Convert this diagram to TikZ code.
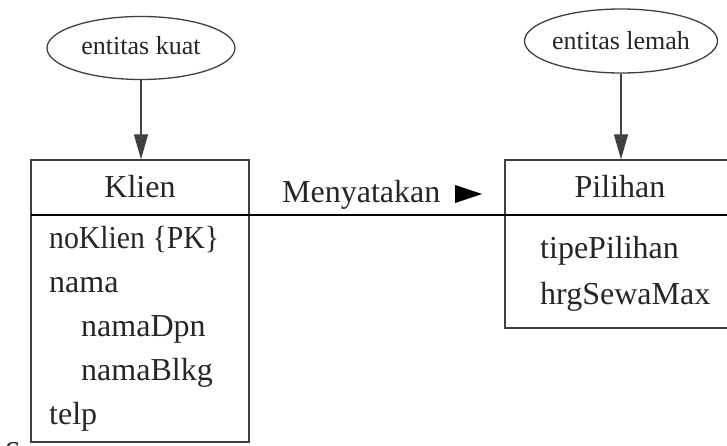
\documentclass[tikz,border=0pt]{standalone}
\usepackage{fontspec}
\usepackage{graphicx}
\setmainfont{Liberation Serif}
\usetikzlibrary{arrows.meta,shapes.geometric}
\begin{document}
\begin{tikzpicture}[x=1pt,y=-1pt,
  boxline/.style={draw=black!75,line width=1.3pt},
  ent/.style={boxline,ellipse,inner sep=0pt},
  big/.style={font=\fontsize{32}{38}\selectfont,inner sep=0pt,text=black!85},
  small/.style={font=\fontsize{26}{30}\selectfont,inner sep=0pt,text=black!85},
  arr/.style={draw=black!75,line width=1.3pt,-{Triangle[length=25pt,width=14pt]}}]
\useasboundingbox (0,0) rectangle (727,446);
\clip (0,0) rectangle (727,446);
% ellipses
\node[ent,minimum width=188pt,minimum height=63pt] (kuat) at (141,48) {};
\node[small,anchor=base] at (141,55) {entitas kuat};
\node[ent,minimum width=193pt,minimum height=64pt] (lemah) at (621,41) {};
\node[small,anchor=base] at (621,50) {entitas lemah};
% boxes
\node[boxline,minimum width=218pt,minimum height=282pt,inner sep=0pt] (klien) at (140,301) {};
\node[boxline,minimum width=230pt,minimum height=168pt,inner sep=0pt] (pilihan) at (620,244) {};
\coordinate (divL) at (31,215);
\coordinate (divR) at (740,215);
\draw[black,line width=1.2pt] (divL) -- (divR);
% arrows
\draw[arr] (kuat.south) -- (kuat.south |- klien.north);
\draw[arr] (lemah.south) -- (lemah.south |- pilihan.north);
% Klien texts
\node[big,anchor=base] at (140,198) {Klien};
\node[big,anchor=base west] at (49,248) {\scalebox{0.93}[1]{noKlien \{PK\}}};
\node[big,anchor=base west] at (49,292) {nama};
\node[big,anchor=base west] at (81,336) {namaDpn};
\node[big,anchor=base west] at (81,380) {namaBlkg};
\node[big,anchor=base west] at (49,424) {telp};
% Pilihan texts
\node[big,anchor=base] at (620,198) {Pilihan};
\node[big,anchor=base west] at (540,258) {tipePilihan};
\node[big,anchor=base west] at (540,304) {hrgSewaMax};
% relationship label
\node[big,anchor=base west] (rel) at (282,203) {Menyatakan};
\fill[black] (455,185) -- (482,194) -- (455,203) -- cycle;
% stray letter
\node[big,anchor=base west] at (5,457) {c};
\end{tikzpicture}
\end{document}
